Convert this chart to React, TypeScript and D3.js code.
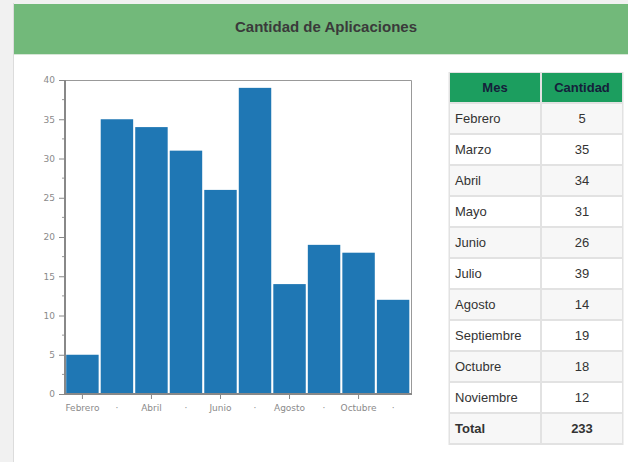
import React, { useEffect, useRef } from "react";
import * as d3 from "d3";

const months = ["Febrero", "Marzo", "Abril", "Mayo", "Junio", "Julio", "Agosto", "Septiembre", "Octubre", "Noviembre"];
const counts = [5, 35, 34, 31, 26, 39, 14, 19, 18, 12];
const yTicks = [0, 5, 10, 15, 20, 25, 30, 35, 40];
const tableHeaders = ["Mes", "Cantidad"];

const App = () => {
  const ref = useRef<SVGSVGElement | null>(null);

  useEffect(() => {
    if (!ref.current) return;
    const svg = d3.select(ref.current);
    svg.selectAll("*").remove();

    const W = 628;
    const H = 462;
    const font = "'Liberation Sans', Arial, sans-serif";

    // page background / panel
    svg.append("rect").attr("width", W).attr("height", H).attr("fill", "#fff");
    svg.append("rect").attr("width", 13).attr("height", H).attr("fill", "#f1f1f1");
    svg.append("rect").attr("width", W).attr("height", 4).attr("fill", "#f1f1f1");
    svg.append("line").attr("x1", 13.5).attr("x2", 13.5).attr("y1", 3).attr("y2", H)
      .attr("stroke", "#dcdcdc");

    // Header
    svg.append("rect").attr("x", 14).attr("y", 4).attr("width", W - 14).attr("height", 50)
      .attr("fill", "#72b97a");
    svg.append("line").attr("x1", 14).attr("x2", W).attr("y1", 54.5).attr("y2", 54.5)
      .attr("stroke", "#d6e6d6");
    svg.append("text").attr("x", 326).attr("y", 32).attr("text-anchor", "middle")
      .attr("font-family", font).attr("font-size", 15).attr("font-weight", "bold")
      .attr("fill", "#3a3a3a").text("Cantidad de Aplicaciones");

    // Chart
    const left = 65, right = 411, top = 80, bottom = 394;
    const x = d3.scaleBand<string>().domain(months).range([left + 0.5, right - 1]).paddingInner(0.06).paddingOuter(0.02);
    const y = d3.scaleLinear().domain([0, 40]).range([bottom, top]);

    // frame top/right
    svg.append("path")
      .attr("d", `M${left},${top + 0.5}H${right + 0.5}V${bottom}`)
      .attr("fill", "none").attr("stroke", "#999").attr("stroke-width", 1);

    svg.append("g").selectAll("rect").data(counts).enter().append("rect")
      .attr("x", (_, i) => x(months[i])!)
      .attr("y", (d) => y(d))
      .attr("width", x.bandwidth())
      .attr("height", (d) => bottom - y(d))
      .attr("fill", "#1f77b4");

    // Y axis
    const yAxis = svg.append("g").attr("transform", `translate(${left},0)`)
      .call(d3.axisLeft(y).tickValues(yTicks).tickSize(6).tickPadding(4))
      .call((g) => g.select(".domain").remove());
    yAxis.selectAll(".tick line").attr("stroke", "#888");
    yAxis.selectAll("text").attr("fill", "#8a8a8a").attr("font-size", 9).attr("font-family", "'DejaVu Sans', Verdana, sans-serif");
    const minor = yTicks.slice(0, -1).map((t) => t + 2.5);
    svg.append("g").selectAll("line").data(minor).enter().append("line")
      .attr("x1", left - 3).attr("x2", left)
      .attr("y1", (d) => y(d)).attr("y2", (d) => y(d))
      .attr("stroke", "#999");

    // X axis
    const xAxis = svg.append("g").attr("transform", `translate(0,${bottom})`)
      .call(d3.axisBottom(x).tickSize(5).tickPadding(6).tickFormat((d, i) => (i % 2 === 0 ? d : "·")))
      .call((g) => g.select(".domain").remove());
    xAxis.selectAll(".tick line").attr("stroke", "#888")
      .attr("opacity", (_, i) => (i % 2 === 0 ? 1 : 0));
    xAxis.selectAll("text").attr("fill", "#8a8a8a").attr("font-size", 9).attr("font-family", "'DejaVu Sans', Verdana, sans-serif");

    // axis lines
    svg.append("path").attr("d", `M${left},${top}V${bottom}H${right + 1}`)
      .attr("fill", "none").attr("stroke", "#888").attr("stroke-width", 2);

    // Table
    const tx = 450, tw1 = 90, tw2 = 80, gap = 2;
    const headH = 29, rowH = 31.0, ty = 72;
    const rows = months.map((m, i) => [m, String(counts[i])]);
    rows.push(["Total", String(d3.sum(counts))]);
    const tableBottom = ty + 1 + headH + gap + rows.length * rowH;
    svg.append("rect").attr("x", tx - 1.5).attr("y", ty).attr("width", tw1 + tw2 + gap + 3)
      .attr("height", tableBottom - ty).attr("fill", "#e2e2e2");

    const cellX = [tx, tx + tw1 + gap];
    const cellW = [tw1, tw2];
    tableHeaders.forEach((h, c) => {
      svg.append("rect").attr("x", cellX[c]).attr("y", ty + 1).attr("width", cellW[c]).attr("height", headH)
        .attr("fill", "#1c9e5f");
      svg.append("text").attr("x", cellX[c] + cellW[c] / 2).attr("y", ty + 1 + headH / 2 + 4.5)
        .attr("text-anchor", "middle").attr("font-family", font).attr("font-size", 13)
        .attr("font-weight", "bold").attr("fill", "#15203a").text(h);
    });

    rows.forEach((r, i) => {
      const ry = ty + 1 + headH + gap + i * rowH;
      const isTotal = i === rows.length - 1;
      r.forEach((v, c) => {
        svg.append("rect").attr("x", cellX[c]).attr("y", ry).attr("width", cellW[c]).attr("height", rowH - gap)
          .attr("fill", i % 2 === 0 ? "#f7f7f7" : "#fff");
        svg.append("text")
          .attr("x", c === 0 ? cellX[c] + 5 : cellX[c] + cellW[c] / 2)
          .attr("y", ry + (rowH - gap) / 2 + 4.5)
          .attr("text-anchor", c === 0 ? "start" : "middle")
          .attr("font-family", font).attr("font-size", 13)
          .attr("font-weight", isTotal ? "bold" : "normal")
          .attr("fill", "#333").text(v);
      });
    });
  }, []);

  return (
    <>
      <style>{"body{margin:0}"}</style>
      <svg ref={ref} width={628} height={462} style={{ display: "block" }} />
    </>
  );
};

export default App;
